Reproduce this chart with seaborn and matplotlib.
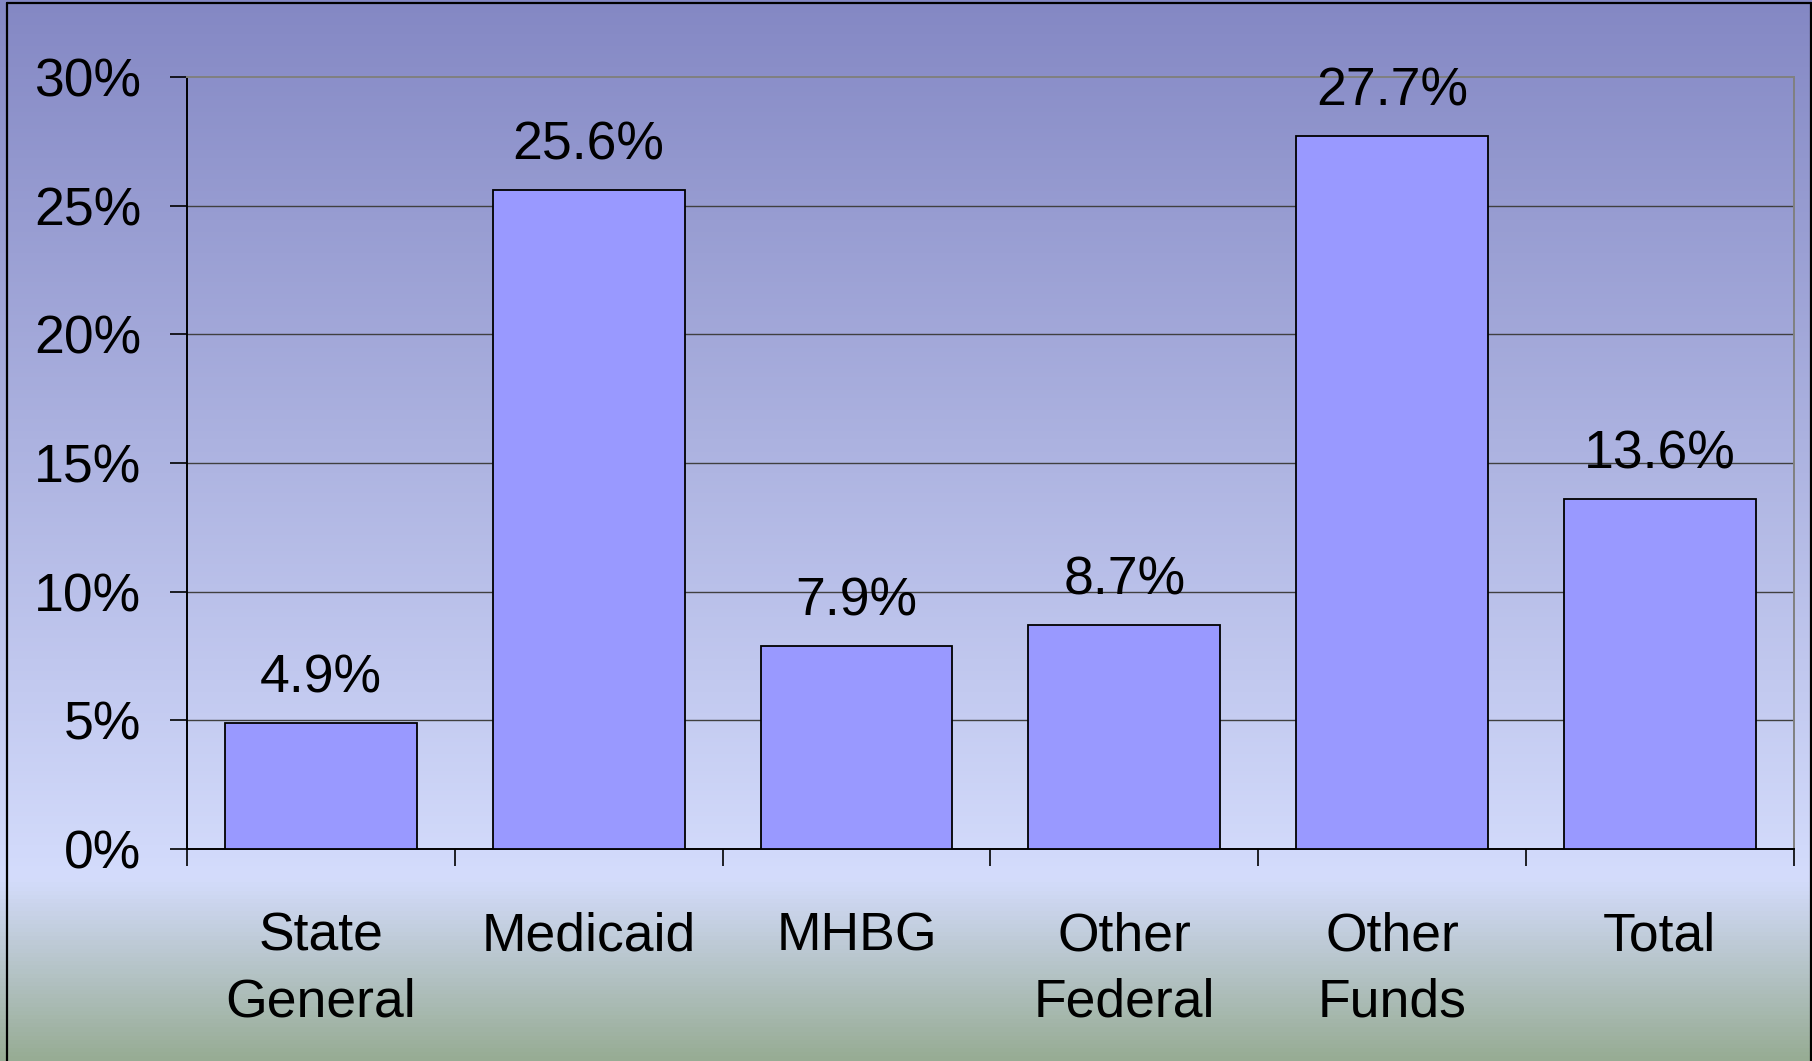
import numpy as np
import pandas as pd
import matplotlib
matplotlib.use("Agg")
import matplotlib.pyplot as plt
from matplotlib.colors import LinearSegmentedColormap
from matplotlib.lines import Line2D
import seaborn as sns

categories = ["State\nGeneral", "Medicaid", "MHBG", "Other\nFederal", "Other\nFunds", "Total"]
values = [4.9, 25.6, 7.9, 8.7, 27.7, 13.6]
value_labels = ["4.9%", "25.6%", "7.9%", "8.7%", "27.7%", "13.6%"]
y_ticks = [0, 5, 10, 15, 20, 25, 30]
y_tick_labels = ["0%", "5%", "10%", "15%", "20%", "25%", "30%"]

sns.set_theme(style="white")
plt.rcParams["font.family"] = ["Liberation Sans", "DejaVu Sans"]

W, H = 1812, 1061
fig = plt.figure(figsize=(W / 100, H / 100), dpi=100)

# gradient background
bg = fig.add_axes([0, 0, 1, 1], zorder=-10)
bg.set_axis_off()
n = 1061
split = 880 / n
cmap = LinearSegmentedColormap.from_list(
    "bg", [(0.0, "#8488c4"), (split, "#d4dcfc"), (1.0, "#97ac94")]
)
grad = np.linspace(0, 1, n).reshape(-1, 1)
bg.imshow(grad, aspect="auto", cmap=cmap, extent=[0, 1, 0, 1], origin="upper")
bg.set_xlim(0, 1)
bg.set_ylim(0, 1)

# figure border
for xs, ys in [([7 / W, 7 / W], [0, 1 - 3 / H]),
               ([7 / W, 1 - 1.5 / W], [1 - 3 / H, 1 - 3 / H]),
               ([1 - 1.5 / W, 1 - 1.5 / W], [0, 1 - 3 / H])]:
    fig.add_artist(Line2D(xs, ys, transform=fig.transFigure, color="black", lw=1.6))

ax = fig.add_axes([187 / W, 1 - 849 / H, (1793.7 - 187) / W, (849 - 77) / H])
ax.patch.set_alpha(0)

df = pd.DataFrame({"cat": categories, "val": values})
sns.barplot(data=df, x="cat", y="val", ax=ax, color="#9999ff", saturation=1,
            edgecolor="black", linewidth=1.3, width=0.716, zorder=3)

ax.set_xlim(-0.5, len(categories) - 0.5)
ax.set_ylim(0, 30)
ax.set_yticks(y_ticks)
ax.set_yticklabels(y_tick_labels)
ax.set_xticks(range(len(categories)))
ax.set_xticklabels(categories, linespacing=1.4)
ax.set_xticks(np.arange(-0.5, len(categories)), minor=True)
ax.set_xlabel("")
ax.set_ylabel("")

for yv in y_ticks[1:-1]:
    ax.axhline(yv, color="#404040", lw=1.0, zorder=1)

ax.tick_params(axis="x", which="major", length=0, pad=45, labelsize=38.5, labelcolor="black")
ax.tick_params(axis="x", which="minor", bottom=True, length=12, width=1.2, color="black", direction="out")
ax.tick_params(axis="y", left=True, length=12, width=1.2, color="black", direction="out",
               pad=21, labelsize=38.5, labelcolor="black")

ax.spines["left"].set_color("black")
ax.spines["bottom"].set_color("black")
ax.spines["top"].set_color("#808080")
ax.spines["right"].set_color("#808080")
for s in ax.spines.values():
    s.set_linewidth(1.4)
    s.set_visible(True)

for cont in ax.containers:
    ax.bar_label(cont, labels=value_labels, padding=14, fontsize=38.5, color="black")

fig.savefig("out.png", dpi=100)
